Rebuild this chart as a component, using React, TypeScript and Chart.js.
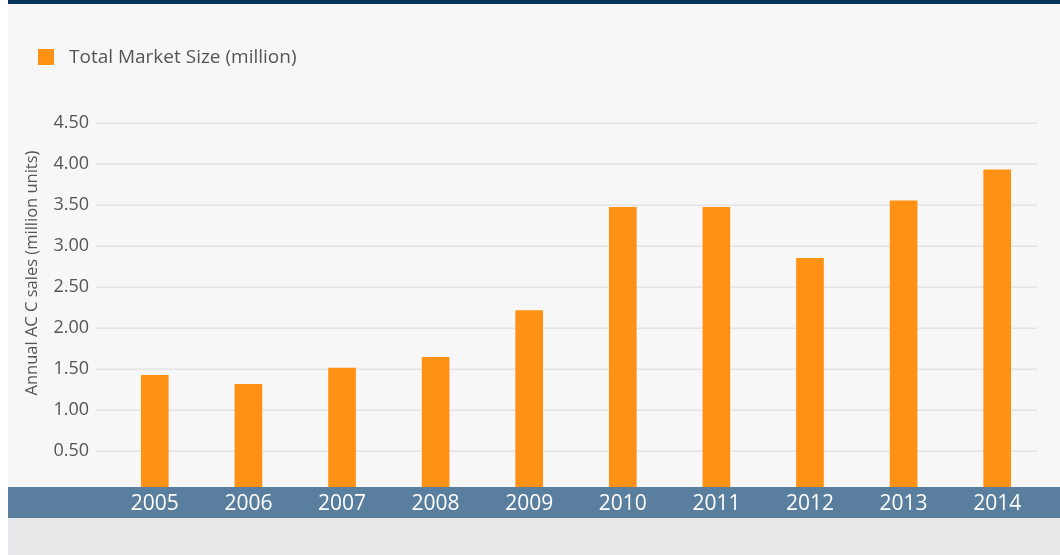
import { useEffect, useRef } from 'react';
import { Chart, registerables } from 'chart.js';

Chart.register(...registerables);

const categories = ['2005', '2006', '2007', '2008', '2009', '2010', '2011', '2012', '2013', '2014'];
const marketSize = [1.42, 1.31, 1.51, 1.64, 2.21, 3.47, 3.47, 2.85, 3.55, 3.93];
const seriesLabel = 'Total Market Size (million)';
const yAxisTitle = 'Annual AC C sales (million units)';
const yMin = 0;
const yMax = 4.5;
const yStep = 0.5;

const FONT = "'Open Sans', 'DejaVu Sans', sans-serif";
const TEXT_COLOR = '#555555';

const backgroundPlugin = {
  id: 'pageBackground',
  beforeDraw(chart: any) {
    const { ctx, width, height } = chart;
    ctx.save();
    ctx.fillStyle = '#f7f7f7';
    ctx.fillRect(0, 0, width, height);
    ctx.fillStyle = '#07335a';
    ctx.fillRect(0, 0, width, 4);
    ctx.fillStyle = '#e9e9eb';
    ctx.fillRect(0, 518, width, height - 518);
    ctx.restore();
  },
};

const gridPlugin = {
  id: 'customGrid',
  beforeDatasetsDraw(chart: any) {
    const { ctx } = chart;
    const y = chart.scales.y;
    ctx.save();
    ctx.strokeStyle = '#e4e4e4';
    ctx.lineWidth = 1.5;
    y.ticks.forEach((t: any) => {
      if (t.value <= 0) return;
      const py = Math.round(y.getPixelForValue(t.value)) + 0.25;
      ctx.beginPath();
      ctx.moveTo(88, py);
      ctx.lineTo(1029, py);
      ctx.stroke();
    });
    ctx.restore();
  },
};

const bandPlugin = {
  id: 'axisBand',
  afterDatasetsDraw(chart: any) {
    const { ctx, width } = chart;
    ctx.save();
    ctx.fillStyle = '#5a7f9e';
    ctx.fillRect(0, 487, width, 31);
    ctx.restore();
  },
};

const legendAndTitlePlugin = {
  id: 'legendAndTitle',
  afterDraw(chart: any) {
    const { ctx } = chart;
    const ds = chart.data.datasets[0];
    ctx.save();
    ctx.fillStyle = ds.backgroundColor;
    ctx.fillRect(30, 49, 16, 16);
    ctx.fillStyle = TEXT_COLOR;
    ctx.font = `19px ${FONT}`;
    ctx.textBaseline = 'middle';
    ctx.textAlign = 'left';
    ctx.fillText(ds.label, 61, 58);
    ctx.translate(24, 273);
    ctx.rotate(-Math.PI / 2);
    ctx.textAlign = 'center';
    ctx.font = `16.5px ${FONT}`;
    ctx.fillText(yAxisTitle, 0, 0);
    ctx.restore();
  },
};

export default function App() {
  const ref = useRef<HTMLCanvasElement | null>(null);

  useEffect(() => {
    if (!ref.current) return;
    const chart = new Chart(ref.current, {
      type: 'bar',
      data: {
        labels: categories,
        datasets: [
          {
            label: seriesLabel,
            data: marketSize,
            backgroundColor: '#ff9114',
            borderWidth: 0,
            barThickness: 27,
          },
        ],
      },
      options: {
        animation: false,
        responsive: false,
        maintainAspectRatio: false,
        layout: { padding: { top: 123, bottom: 38, left: 0, right: 16 } },
        plugins: {
          legend: { display: false },
          tooltip: { enabled: false },
        },
        scales: {
          x: {
            grid: { display: false, drawTicks: false },
            border: { display: false },
            ticks: {
              z: 1,
              color: '#ffffff',
              padding: 0,
              font: { family: FONT, size: 21 },
            },
          },
          y: {
            min: yMin,
            max: yMax,
            afterFit(scale: any) {
              scale.width = 100;
            },
            grid: { display: false, drawTicks: false },
            border: { display: false },
            ticks: {
              stepSize: yStep,
              padding: 19,
              color: TEXT_COLOR,
              font: { family: FONT, size: 18 },
              callback: (v: any) => (Number(v) === 0 ? '' : Number(v).toFixed(2)),
            },
          },
        },
      },
      plugins: [backgroundPlugin, gridPlugin, bandPlugin, legendAndTitlePlugin],
    });
    return () => chart.destroy();
  }, []);

  return (
    <div style={{ position: 'absolute', left: 8, top: 0, width: 1052, height: 555 }}>
      <canvas ref={ref} width={1052} height={555} style={{ display: 'block', width: 1052, height: 555 }} />
    </div>
  );
}
